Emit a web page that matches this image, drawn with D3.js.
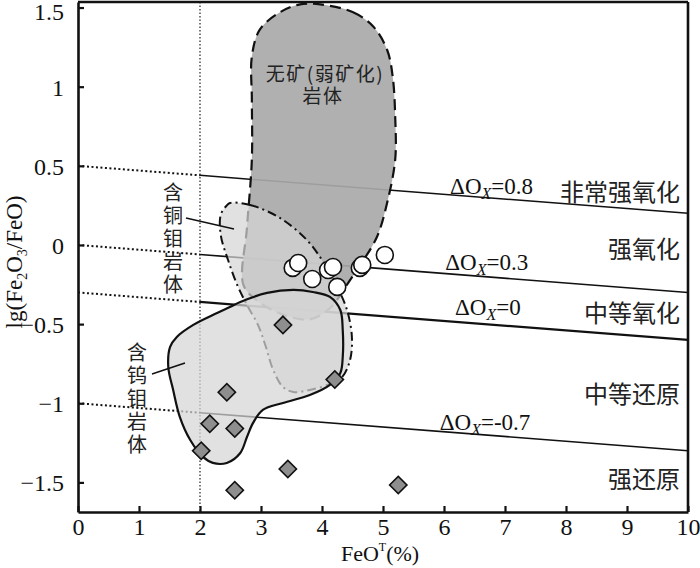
<!DOCTYPE html>
<html>
<head>
<meta charset="utf-8">
<script src="https://cdn.jsdelivr.net/npm/d3@7"></script>
<style>
  body { margin: 0; background: #fff; }
  svg { display: block; }
  .cjk { font-family: "Noto Sans CJK SC", sans-serif; fill: #222; }
  .ser { font-family: "Liberation Serif", serif; fill: #111; }
</style>
</head>
<body>
<div id="chart"></div>
<script>
/* FeOT vs lg(Fe2O3/FeO) — oxidation state diagram */

const xTicks = [0,1,2,3,4,5,6,7,8,9,10];
const yTicks = [-1.5,-1,-0.5,0,0.5,1,1.5];

// ΔOx reference lines: value at FeOT = 0 and FeOT = 10
const oxLabels = ["0.8","0.3","0","-0.7"];
const oxAt0    = [0.5, 0, -0.3, -1.0];
const oxAt10   = [0.2, -0.3, -0.6, -1.3];

const zoneNames = ["非常强氧化","强氧化","中等氧化","中等还原","强还原"];
const zoneY     = [0.347, -0.013, -0.423, -0.935, -1.466];

// outline of barren (weakly mineralised) intrusions
const barrenX = [3.97,4.51,4.84,5.07,5.16,5.20,5.20,5.07,4.90,4.62,4.41,4.13,3.80,3.36,2.93,2.71,2.77,2.85,2.85,2.85,2.98,3.31,3.64];
const barrenY = [1.52,1.47,1.38,1.23,1.06,0.81,0.54,0.27,0.05,-0.13,-0.25,-0.40,-0.47,-0.44,-0.35,-0.25,0.11,0.54,0.92,1.19,1.36,1.47,1.52];

// Cu-Mo bearing intrusions
const cuX = [2.49,2.82,3.31,3.75,4.02,4.25,4.41,4.49,4.46,4.33,4.13,3.80,3.53,3.36,3.20,3.07,2.95,2.77,2.61,2.46,2.34,2.34,2.43];
const cuY = [0.265,0.253,0.171,0.032,-0.107,-0.265,-0.411,-0.581,-0.726,-0.834,-0.878,-0.916,-0.929,-0.897,-0.790,-0.632,-0.505,-0.379,-0.253,-0.095,0.063,0.190,0.246];

// W-Mo bearing intrusions
const wX = [2.66,3.10,3.53,3.85,4.13,4.30,4.34,4.34,4.30,4.13,3.80,3.36,3.03,2.87,2.77,2.66,2.44,2.21,2.05,1.84,1.67,1.56,1.48,1.51,1.62,1.89,2.28,2.49];
const wY = [-0.360,-0.303,-0.284,-0.297,-0.328,-0.411,-0.537,-0.708,-0.809,-0.884,-0.948,-0.998,-1.042,-1.124,-1.213,-1.314,-1.377,-1.377,-1.339,-1.232,-1.087,-0.916,-0.771,-0.644,-0.581,-0.505,-0.430,-0.392];

// samples
const circX = [3.52,3.61,3.84,4.10,4.18,4.25,4.62,4.66,5.03];
const circY = [-0.145,-0.114,-0.215,-0.158,-0.139,-0.265,-0.145,-0.126,-0.063];
const diaX  = [2.44,2.16,2.57,2.02,2.57,3.36,4.21,3.44,5.25];
const diaY  = [-0.93,-1.13,-1.16,-1.30,-1.55,-0.505,-0.85,-1.415,-1.516];

const W = 700, H = 568;
const x = d3.scaleLinear().domain([0,10]).range([78,688]);
const y = d3.scaleLinear().domain([-1.687,1.535]).range([512,2]);

const svg = d3.select("#chart").append("svg").attr("width", W).attr("height", H);

svg.append("clipPath").attr("id","plot-clip")
  .append("rect").attr("x",78).attr("y",2).attr("width",610).attr("height",510);

const plot = svg.append("g").attr("clip-path","url(#plot-clip)");

// vertical dotted line at FeOT = 2
plot.append("line")
  .attr("x1", x(2)).attr("x2", x(2)).attr("y1", y(1.535)).attr("y2", y(-1.687))
  .attr("stroke","#222").attr("stroke-width",1.2).attr("stroke-dasharray","1.5,2");

// ΔOx lines: dotted 0-2, solid 2-10
oxLabels.forEach((lab, i) => {
  const yAt = v => oxAt0[i] + (oxAt10[i] - oxAt0[i]) * v / 10;
  plot.append("line")
    .attr("x1", x(0)).attr("y1", y(yAt(0))).attr("x2", x(2)).attr("y2", y(yAt(2)))
    .attr("stroke","#111").attr("stroke-width",2).attr("stroke-dasharray","2,2.5");
  plot.append("line")
    .attr("x1", x(2)).attr("y1", y(yAt(2))).attr("x2", x(10)).attr("y2", y(yAt(10)))
    .attr("stroke","#111").attr("stroke-width", lab === "0" ? 2.2 : 1.6);
});

const area = d3.line().x(d => x(d[0])).y(d => y(d[1])).curve(d3.curveCatmullRomClosed.alpha(0.5));
const zip = (a, b) => a.map((v, i) => [v, b[i]]);

plot.append("path").datum(zip(barrenX, barrenY))
  .attr("d", area).attr("fill","#a9a9a9").attr("fill-opacity",0.92)
  .attr("stroke","#111").attr("stroke-width",2.2).attr("stroke-dasharray","11,6");

plot.append("path").datum(zip(cuX, cuY))
  .attr("d", area).attr("fill","#d6d6d6").attr("fill-opacity",0.72)
  .attr("stroke","#111").attr("stroke-width",2).attr("stroke-dasharray","9,4,2,4");

plot.append("path").datum(zip(wX, wY))
  .attr("d", area).attr("fill","#d6d6d6").attr("fill-opacity",0.72)
  .attr("stroke","#111").attr("stroke-width",2.2);

// points
plot.append("g").selectAll("path")
  .data(zip(diaX, diaY)).join("path")
  .attr("d", d3.symbol(d3.symbolSquare).size(150))
  .attr("transform", d => `translate(${x(d[0])},${y(d[1])}) rotate(45)`)
  .attr("fill","#8e8e8e").attr("stroke","#111").attr("stroke-width",1.6);

plot.append("g").selectAll("circle")
  .data(zip(circX, circY)).join("circle")
  .attr("cx", d => x(d[0])).attr("cy", d => y(d[1])).attr("r", 8.5)
  .attr("fill","#fff").attr("stroke","#111").attr("stroke-width",1.6);

// region labels
const barrenLab = svg.append("text").attr("class","cjk").attr("font-size",19).attr("letter-spacing",1.5)
  .attr("text-anchor","middle");
barrenLab.append("tspan").attr("x", 325).attr("y", 81).text("无矿(弱矿化)");
barrenLab.append("tspan").attr("x", 323).attr("dy", 22).text("岩体");

const vertical = (chars, cx, yTop) => {
  svg.append("text").attr("class","cjk").attr("font-size",20)
    .attr("writing-mode","vertical-rl").attr("letter-spacing",3)
    .attr("x", cx).attr("y", yTop).text(chars);
};
vertical("含铜钼岩体", 173, 182);
vertical("含钨钼岩体", 137, 342);

svg.append("line").attr("x1",186).attr("y1",218).attr("x2",234).attr("y2",229)
  .attr("stroke","#111").attr("stroke-width",1.4);
svg.append("line").attr("x1",152).attr("y1",374).attr("x2",185).attr("y2",363)
  .attr("stroke","#111").attr("stroke-width",1.4);

// ΔOx labels
const oxLabX = [6.1, 6.02, 6.18, 5.93];
const oxLabY = [0.322, -0.158, -0.442, -1.169];
oxLabels.forEach((lab, i) => {
  const t = svg.append("text").attr("class","ser").attr("font-size",23)
    .attr("x", x(oxLabX[i])).attr("y", y(oxLabY[i]));
  t.append("tspan").text("ΔO");
  t.append("tspan").attr("font-size",16).attr("font-style","italic").attr("dy",5).text("X");
  t.append("tspan").attr("dy",-5).text("=" + lab);
});

// zone labels
zoneNames.forEach((n, i) => {
  svg.append("text").attr("class","cjk").attr("font-size",24)
    .attr("x", x(9.87)).attr("y", y(zoneY[i]))
    .attr("text-anchor","end").attr("dominant-baseline","central").text(n);
});

// axes
const xAxis = svg.append("g").attr("transform","translate(0,512)")
  .call(d3.axisBottom(x).tickValues(xTicks).tickSizeInner(-6).tickSizeOuter(0).tickPadding(6).tickFormat(d3.format("d")));
const yAxis = svg.append("g").attr("transform","translate(78,0)")
  .call(d3.axisLeft(y).tickValues(yTicks).tickSizeInner(-6).tickSizeOuter(0).tickPadding(14)
    .tickFormat(d => d === 0 ? "0" : String(d).replace("-", "−")));
[xAxis, yAxis].forEach(a => {
  a.attr("font-family","Liberation Serif, serif").attr("font-size",24);
  a.select(".domain").attr("stroke","#111").attr("stroke-width",2.6);
  a.selectAll(".tick line").attr("stroke","#111").attr("stroke-width",2.2);
  a.selectAll(".tick text").attr("fill","#111");
});
yAxis.selectAll(".tick text").attr("dy","0.35em");
yAxis.selectAll(".tick").filter(d => d === 1.5).select("text").attr("dy","0.5em");

// top and right frame
svg.append("line").attr("x1",78).attr("x2",688).attr("y1",2).attr("y2",2).attr("stroke","#111").attr("stroke-width",2.6);
svg.append("line").attr("x1",688).attr("x2",688).attr("y1",2).attr("y2",512).attr("stroke","#111").attr("stroke-width",2.6);

// axis titles
const xt = svg.append("text").attr("class","ser").attr("font-size",22)
  .attr("x", 380).attr("y", 561).attr("text-anchor","middle");
xt.append("tspan").text("FeO");
xt.append("tspan").attr("font-size",12).attr("dy",-10).text("T");
xt.append("tspan").attr("dy",10).text("(%)");

const yt = svg.append("text").attr("class","ser").attr("font-size",23)
  .attr("transform","translate(22,262) rotate(-90)").attr("text-anchor","middle");
yt.append("tspan").text("lg(Fe");
yt.append("tspan").attr("font-size",14).attr("dy",5).text("2");
yt.append("tspan").attr("dy",-5).text("O");
yt.append("tspan").attr("font-size",14).attr("dy",5).text("3");
yt.append("tspan").attr("dy",-5).text("/FeO)");
</script>
</body>
</html>
